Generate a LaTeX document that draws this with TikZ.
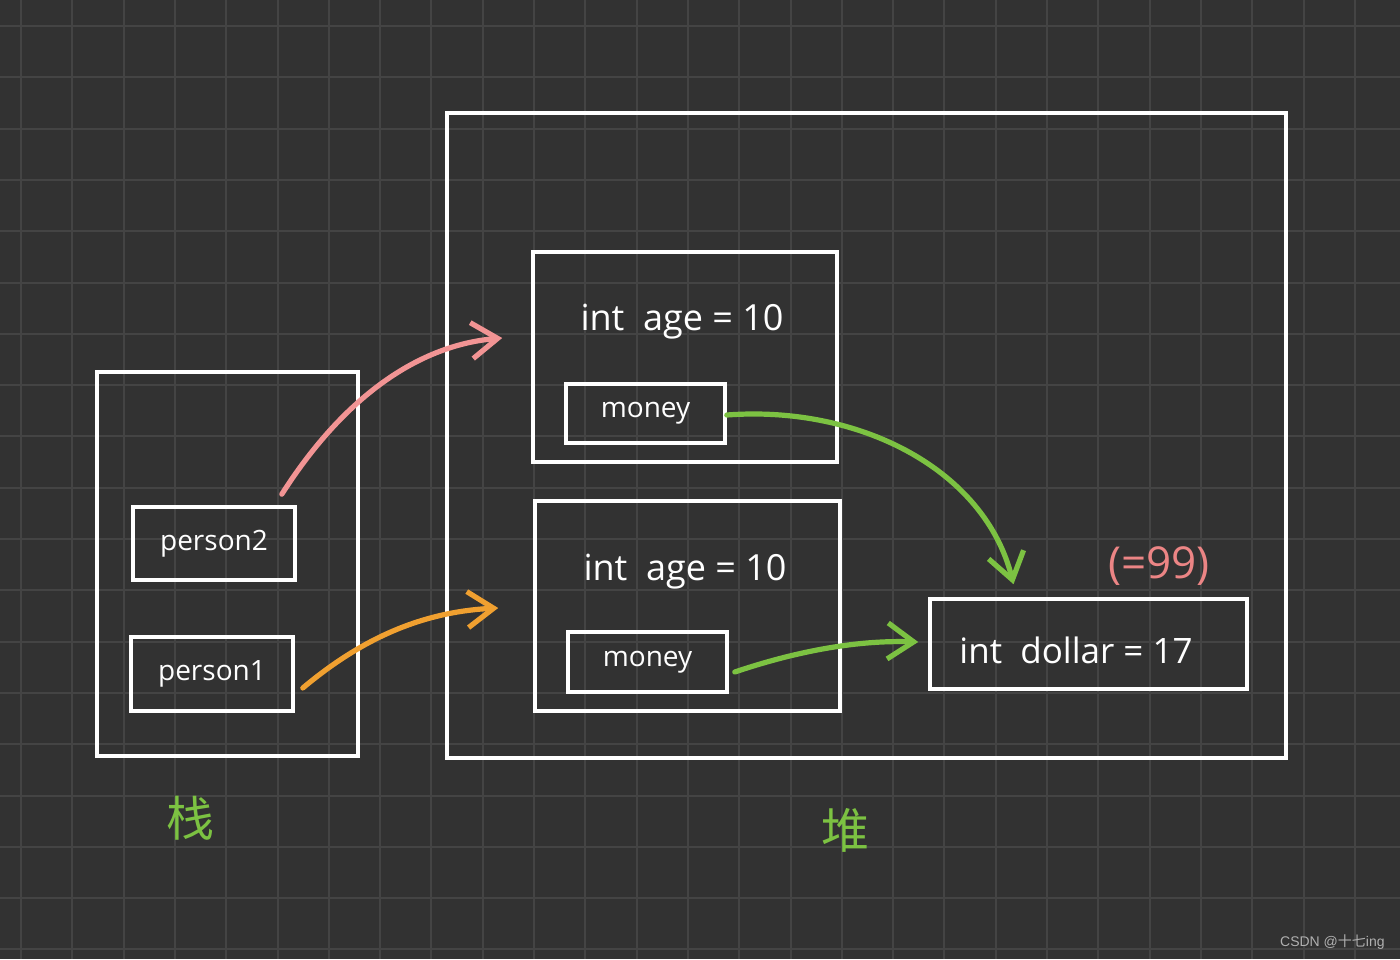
\documentclass[tikz,border=0pt]{standalone}
\usepackage{fontspec}
\setmainfont{Open Sans}
\newfontfamily\cjk{Noto Sans CJK SC}
\newfontfamily\wmark{Liberation Sans}
\usetikzlibrary{arrows.meta,calc}
\definecolor{bgc}{HTML}{323232}
\definecolor{gridc}{HTML}{444444}
\definecolor{pinkc}{HTML}{F29494}
\definecolor{orangec}{HTML}{F0A030}
\definecolor{greenc}{HTML}{7CC242}
\definecolor{pinktxt}{HTML}{EC8585}
\definecolor{markc}{HTML}{B0B0B0}
\tikzset{
  box/.style={draw=white, line width=1.8pt, inner sep=0pt, text=white},
  lbl/.style={text=white, inner sep=0pt, font=\fontsize{18}{20}\selectfont},
  conn/.style={line width=2.6pt, line cap=round, line join=round,
    -{Straight Barb[length=13pt,width=18pt,line width=2.6pt]}},
  hand/.style={text=greenc, inner sep=0pt, font=\cjk\fontsize{24}{26}\selectfont}
}
\begin{document}
\begin{tikzpicture}[x=0.5pt,y=-0.5pt]
\fill[bgc] (0,0) rectangle (1400,959);
\useasboundingbox (0,0) rectangle (1400,959);
\foreach \i in {0,...,27} {\draw[gridc, line width=1pt] ({21+51.3*\i},0) -- ({21+51.3*\i},959);}
\foreach \j in {0,...,18} {\draw[gridc, line width=1pt] (0,{26+51.3*\j}) -- (1400,{26+51.3*\j});}

% stack
\node[box, minimum width=130.5pt, minimum height=192pt] (stack) at (227.5,564) {};
\node[box, minimum width=81pt, minimum height=36.5pt, font=\fontsize{14}{16}\selectfont] (p2) at (214,543.5) {person2};
\node[box, minimum width=81pt, minimum height=37pt, font=\fontsize{14}{16}\selectfont] (p1) at (212,674) {person1};

% heap
\node[box, minimum width=419.5pt, minimum height=322.5pt] (heap) at (866.5,435.5) {};
\node[box, minimum width=152pt, minimum height=105pt] (o1) at (685,357) {};
\node[lbl] (a1) at (682,322) {int\ \ age = 10};
\node[box, minimum width=79.5pt, minimum height=29.5pt, font=\fontsize{14}{16}\selectfont] (m1) at (645.5,413.5) {money};
\node[box, minimum width=152.5pt, minimum height=105pt] (o2) at (687.5,606) {};
\node[lbl] (a2) at (685,572) {int\ \ age = 10};
\node[box, minimum width=79.5pt, minimum height=30pt, font=\fontsize{14}{16}\selectfont] (m2) at (647.5,662) {money};
\node[box, minimum width=158.5pt, minimum height=45pt] (d) at (1088.5,644) {};
\node[lbl, font=\fontsize{17.5}{20}\selectfont] (dt) at (1076,650) {int\ \ dollar = 17};
\node[text=pinktxt, inner sep=0pt, font=\fontsize{22}{24}\selectfont] (n99) at (1159,566) {(=99)};

% labels
\node[hand] (zhan) at (190,818) {栈};
\node[hand] (dui) at (845,830) {堆};
\node[text=markc, inner sep=0pt, font=\wmark\fontsize{7}{8}\selectfont, anchor=east] (wm) at (1385,942) {CSDN @\cjk 十七\wmark ing};

% connectors
\coordinate (pinkS) at ([shift={(-15,-11)}]p2.north east);
\coordinate (pinkE) at ([shift={(-29,-19)}]o1.west);
\draw[conn, pinkc] (pinkS) .. controls (345,395) and (420,345) .. (pinkE);
\coordinate (orS) at ([shift={(8,14)}]p1.east);
\coordinate (orE) at ([shift={(-35,2)}]o2.west);
\draw[conn, orangec] (orS) .. controls (360,640) and (420,612) .. (orE);
\coordinate (g1S) at ([shift={(0,1.5)}]m1.east);
\coordinate (g1E) at ([shift={(-75,-13)}]d.north);
\draw[conn, greenc] (g1S) .. controls (860,405) and (985,470) .. (g1E);
\coordinate (g2S) at ([shift={(6,10)}]m2.east);
\coordinate (g2E) at ([shift={(-10,-2)}]d.west);
\draw[conn, greenc] (g2S) .. controls (800,650) and (860,640) .. (g2E);
\end{tikzpicture}
\end{document}
